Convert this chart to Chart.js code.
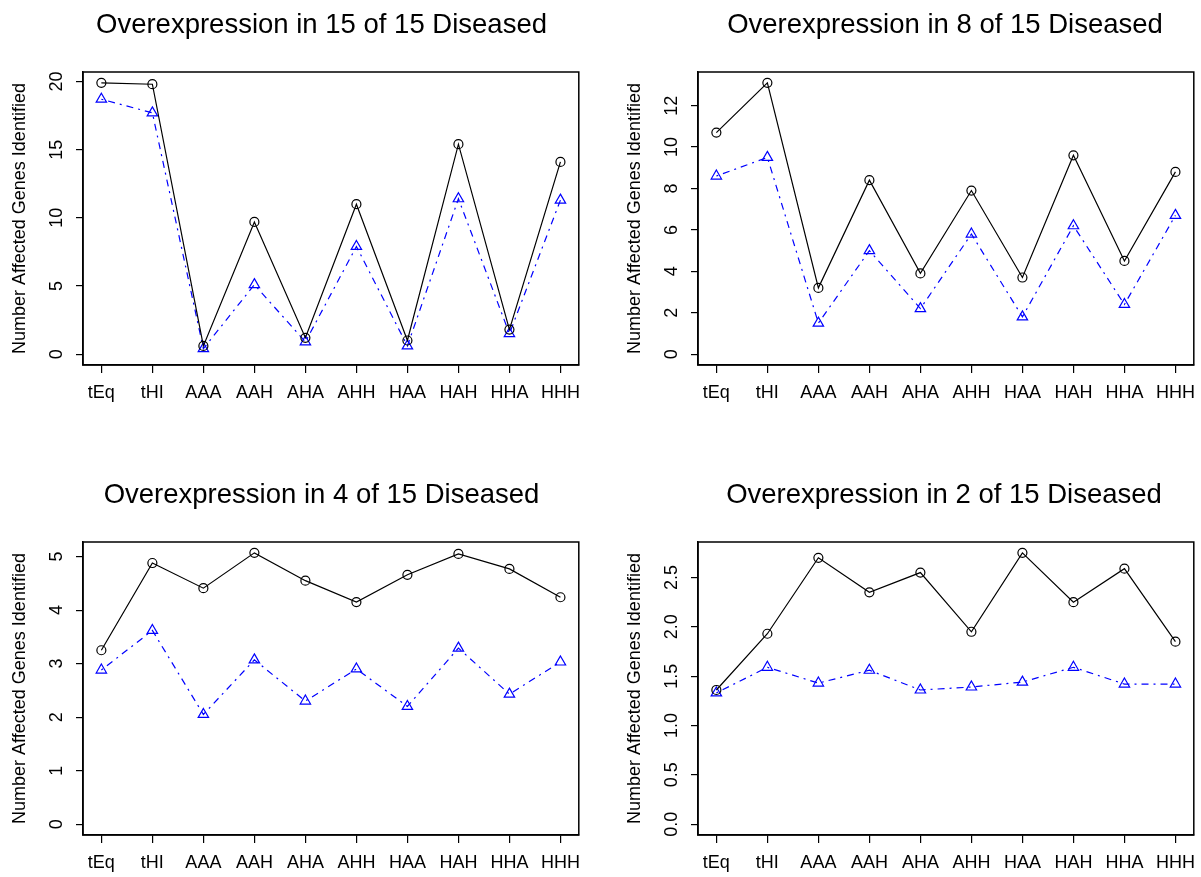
<!DOCTYPE html>
<html>
<head>
<meta charset="utf-8">
<script src="https://cdn.jsdelivr.net/npm/chart.js@4.4.0/dist/chart.umd.min.js"></script>
<style>
  body { margin: 0; background: #fff; width: 1201px; height: 877px; position: relative; overflow: hidden; }
  .panel { position: absolute; width: 586px; }
</style>
</head>
<body>
<div class="panel" style="left:0;top:0;height:470px"><canvas id="c1"></canvas></div>
<div class="panel" style="left:615px;top:0;height:470px"><canvas id="c2"></canvas></div>
<div class="panel" style="left:0;top:470px;height:407px"><canvas id="c3"></canvas></div>
<div class="panel" style="left:615px;top:470px;height:407px"><canvas id="c4"></canvas></div>
<script>
const categories = ['tEq', 'tHI', 'AAA', 'AAH', 'AHA', 'AHH', 'HAA', 'HAH', 'HHA', 'HHH'];

// 15 of 15
const p15Circle   = [19.9, 19.8, 0.6, 9.7, 1.2, 11.0, 1.0, 15.4, 1.8, 14.1];
const p15Triangle = [18.7, 17.7, 0.4, 5.1, 0.9, 7.9, 0.6, 11.4, 1.5, 11.3];
// 8 of 15
const p8Circle    = [10.7, 13.1, 3.2, 8.4, 3.9, 7.9, 3.7, 9.6, 4.5, 8.8];
const p8Triangle  = [8.6, 9.5, 1.5, 5.0, 2.2, 5.8, 1.8, 6.2, 2.4, 6.7];
// 4 of 15
const p4Circle    = [3.25, 4.88, 4.41, 5.07, 4.55, 4.15, 4.66, 5.05, 4.77, 4.24];
const p4Triangle  = [2.88, 3.62, 2.05, 3.07, 2.30, 2.90, 2.20, 3.29, 2.43, 3.03];
// 2 of 15
const p2Circle    = [1.36, 1.93, 2.70, 2.35, 2.55, 1.95, 2.75, 2.25, 2.59, 1.85];
const p2Triangle  = [1.33, 1.59, 1.43, 1.56, 1.36, 1.39, 1.44, 1.59, 1.42, 1.42];

const FONT = '"Liberation Sans", Arial, sans-serif';

// box, rotated y tick labels and the title, drawn the way base R does it
const rStyle = {
  id: 'rStyle',
  afterDraw(chart, args, opts) {
    const { ctx, chartArea: a } = chart;
    ctx.save();
    ctx.strokeStyle = '#000';
    ctx.lineWidth = 1.5;
    ctx.strokeRect(a.left, a.top, a.right - a.left, a.bottom - a.top);

    const y = chart.scales.y;
    ctx.fillStyle = '#000';
    ctx.font = '18px ' + FONT;
    ctx.textAlign = 'center';
    ctx.textBaseline = 'middle';
    y.ticks.forEach(t => {
      ctx.save();
      ctx.translate(a.left - 26, y.getPixelForValue(t.value));
      ctx.rotate(-Math.PI / 2);
      ctx.fillText(t.value.toFixed(opts.decimals), 0, 0);
      ctx.restore();
    });

    ctx.font = '27.5px ' + FONT;
    ctx.textBaseline = 'alphabetic';
    ctx.fillText(opts.title, opts.titleX, 33);
    ctx.restore();
  }
};

function makePanel(id, title, titleX, circle, triangle, step, decimals, xHeight) {
  const top = Math.max(...circle, ...triangle);
  new Chart(document.getElementById(id), {
    type: 'line',
    data: {
      datasets: [{
        data: circle.map((v, i) => ({ x: i + 1, y: v })),
        borderColor: '#000',
        borderWidth: 1.2,
        pointStyle: 'circle',
        pointRadius: 4.5,
        pointBorderColor: '#000',
        pointBackgroundColor: 'rgba(0,0,0,0)',
        pointBorderWidth: 1.2,
        tension: 0
      }, {
        data: triangle.map((v, i) => ({ x: i + 1, y: v })),
        borderColor: '#0000ff',
        borderWidth: 1.2,
        borderDash: [2, 5, 7, 5],
        pointStyle: 'triangle',
        pointRadius: 6,
        pointBorderColor: '#0000ff',
        pointBackgroundColor: 'rgba(0,0,0,0)',
        pointBorderWidth: 1.2,
        tension: 0
      }]
    },
    options: {
      responsive: true,
      maintainAspectRatio: false,
      animation: false,
      layout: { padding: { top: 72, right: 6, left: 0, bottom: 0 } },
      plugins: {
        legend: { display: false },
        tooltip: { enabled: false },
        rStyle: { title: title, titleX: titleX, decimals: decimals }
      },
      scales: {
        x: {
          type: 'linear',
          min: 0.64,
          max: 10.36,
          afterFit: s => { s.height = xHeight; s.paddingLeft = 0; s.paddingRight = 0; },
          border: { display: true, color: '#000', width: 1.5 },
          grid: { drawOnChartArea: false, drawTicks: true, tickLength: 8, color: '#000', lineWidth: 1.2 },
          ticks: {
            stepSize: 1,
            includeBounds: false,
            autoSkip: false,
            maxRotation: 0,
            padding: 9,
            color: '#000',
            font: { family: FONT, size: 18 },
            callback: v => categories[v - 1]
          }
        },
        y: {
          min: -0.04 * top,
          max: 1.04 * top,
          afterFit: s => { s.width = 83; s.paddingTop = 0; s.paddingBottom = 0; },
          border: { display: true, color: '#000', width: 1.5 },
          grid: { drawOnChartArea: false, drawTicks: true, tickLength: 7, color: '#000', lineWidth: 1.2 },
          ticks: { display: false, stepSize: step, includeBounds: false },
          title: {
            display: true,
            text: 'Number Affected Genes Identified',
            color: '#000',
            font: { family: FONT, size: 18 },
            padding: { top: 9, bottom: 0 }
          }
        }
      }
    },
    plugins: [rStyle]
  });
}

makePanel('c1', 'Overexpression in 15 of 15 Diseased', 321.5, p15Circle, p15Triangle, 5, 0, 105);
makePanel('c2', 'Overexpression in 8 of 15 Diseased', 330, p8Circle, p8Triangle, 2, 0, 105);
makePanel('c3', 'Overexpression in 4 of 15 Diseased', 321.5, p4Circle, p4Triangle, 1, 0, 42);
makePanel('c4', 'Overexpression in 2 of 15 Diseased', 329, p2Circle, p2Triangle, 0.5, 1, 42);
</script>
</body>
</html>
